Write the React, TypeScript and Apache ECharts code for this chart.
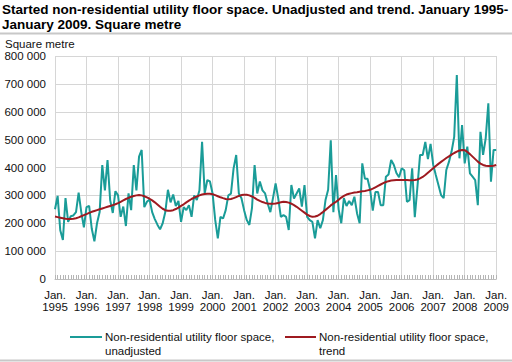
import React, { useEffect, useRef } from "react";
import * as echarts from "echarts";

const FONT = "'Liberation Sans', Arial, Helvetica, sans-serif";

const years = [1995, 1996, 1997, 1998, 1999, 2000, 2001, 2002, 2003, 2004, 2005, 2006, 2007, 2008, 2009];
const monthNames = ["Jan.", "Feb.", "Mar.", "Apr.", "May", "Jun.", "Jul.", "Aug.", "Sep.", "Oct.", "Nov.", "Dec."];

// Thousand square metres, monthly Jan 1995 - Jan 2009
const unadjusted1995 = [250, 298, 175, 140, 290, 205, 225, 228, 240, 310, 240, 185];
const unadjusted1996 = [258, 262, 180, 135, 200, 240, 409, 318, 427, 283, 237, 315];
const unadjusted1997 = [300, 223, 260, 190, 307, 247, 409, 318, 439, 463, 258, 277];
const unadjusted1998 = [285, 240, 215, 195, 178, 200, 240, 320, 275, 303, 262, 280];
const unadjusted1999 = [205, 258, 247, 265, 223, 300, 283, 318, 492, 307, 355, 350];
const unadjusted2000 = [307, 212, 146, 223, 217, 247, 300, 306, 397, 445, 307, 290];
const unadjusted2001 = [247, 212, 194, 254, 409, 307, 350, 318, 307, 270, 240, 290];
const unadjusted2002 = [343, 289, 223, 229, 223, 176, 337, 289, 307, 325, 260, 337];
const unadjusted2003 = [223, 211, 205, 146, 211, 182, 211, 283, 320, 498, 240, 373];
const unadjusted2004 = [250, 200, 290, 262, 280, 265, 295, 236, 200, 415, 360, 360];
const unadjusted2005 = [320, 245, 312, 312, 265, 265, 367, 375, 427, 410, 380, 365];
const unadjusted2006 = [397, 390, 277, 283, 397, 222, 330, 445, 445, 492, 430, 485];
const unadjusted2007 = [410, 373, 337, 301, 290, 391, 420, 457, 510, 732, 433, 552];
const unadjusted2008 = [415, 475, 379, 367, 355, 265, 528, 445, 505, 630, 349, 463];
const unadjusted2009 = [463];

const trend1995 = [224, 222, 220, 218, 216, 215, 215, 216, 218, 221, 225, 229];
const trend1996 = [233, 237, 241, 244, 247, 250, 253, 256, 259, 262, 265, 268];
const trend1997 = [272, 277, 282, 287, 291, 295, 298, 300, 301, 300, 297, 293];
const trend1998 = [288, 282, 275, 267, 259, 252, 247, 245, 245, 247, 251, 256];
const trend1999 = [262, 268, 275, 281, 287, 292, 296, 300, 303, 305, 306, 306];
const trend2000 = [304, 301, 297, 293, 290, 287, 286, 287, 290, 294, 298, 301];
const trend2001 = [302, 302, 300, 296, 291, 285, 280, 276, 273, 271, 270, 270];
const trend2002 = [271, 273, 275, 277, 276, 274, 270, 265, 259, 252, 245, 238];
const trend2003 = [231, 226, 223, 224, 227, 233, 240, 248, 256, 264, 271, 277];
const trend2004 = [284, 292, 298, 303, 306, 308, 310, 311, 313, 315, 316, 318];
const trend2005 = [320, 324, 329, 334, 339, 344, 348, 351, 353, 354, 355, 355];
const trend2006 = [355, 355, 355, 354, 354, 355, 357, 361, 366, 373, 381, 389];
const trend2007 = [397, 405, 413, 420, 427, 434, 440, 446, 452, 457, 461, 463];
const trend2008 = [462, 456, 448, 439, 430, 421, 414, 409, 406, 405, 405, 406];
const trend2009 = [409];

const unadjusted = [
  ...unadjusted1995, ...unadjusted1996, ...unadjusted1997, ...unadjusted1998, ...unadjusted1999,
  ...unadjusted2000, ...unadjusted2001, ...unadjusted2002, ...unadjusted2003, ...unadjusted2004,
  ...unadjusted2005, ...unadjusted2006, ...unadjusted2007, ...unadjusted2008, ...unadjusted2009,
];
const trend = [
  ...trend1995, ...trend1996, ...trend1997, ...trend1998, ...trend1999,
  ...trend2000, ...trend2001, ...trend2002, ...trend2003, ...trend2004,
  ...trend2005, ...trend2006, ...trend2007, ...trend2008, ...trend2009,
];

const categories: string[] = [];
years.forEach((y) => {
  monthNames.forEach((m, i) => {
    if (y === 2009 && i > 0) return;
    categories.push(i === 0 ? `${m}\n${y}` : `${m} ${y}`);
  });
});

const titleText = "Started non-residential utility floor space. Unadjusted and trend. January 1995-\nJanuary 2009. Square metre";
const unitLabel = "Square metre";
const legendNames = ["Non-residential utility floor space,\nunadjusted", "Non-residential utility floor space,\ntrend"];
const yTicks = [0, 100, 200, 300, 400, 500, 600, 700, 800];

const TEAL = "#1a9c98";
const RED = "#9e1a20";
const GRID = "#d6d6d6";

export default function App() {
  const ref = useRef<HTMLDivElement>(null);
  useEffect(() => {
    document.body.style.margin = "0";
    if (!ref.current) return;
    const chart = echarts.init(ref.current, undefined, { renderer: "svg" });
    chart.setOption({
      animation: false,
      textStyle: { fontFamily: FONT },
      grid: { left: 55, right: 13, top: 56, bottom: 83 },
      xAxis: {
        type: "category",
        data: categories,
        boundaryGap: false,
        axisLine: { show: true, lineStyle: { color: "#bdbdbd", width: 1 } },
        axisTick: { show: true, interval: 0, inside: true, length: 4, lineStyle: { color: "#b5b5b5" } },
        splitLine: { show: true, interval: (i: number) => i % 12 === 0, lineStyle: { color: GRID, width: 1 } },
        axisLabel: {
          interval: (i: number) => i % 12 === 0,
          color: "#111",
          fontSize: 11.5,
          lineHeight: 12,
          margin: 10,
          fontFamily: FONT,
        },
      },
      yAxis: {
        type: "value",
        min: yTicks[0],
        max: yTicks[yTicks.length - 1],
        interval: 100,
        axisLine: { show: false },
        axisTick: { show: false },
        splitLine: { show: true, lineStyle: { color: GRID, width: 1 } },
        axisLabel: {
          color: "#111",
          fontSize: 11.5,
          margin: 9,
          fontFamily: FONT,
          verticalAlign: "middle",
          padding: [7, 0, 0, 0],
          formatter: (v: number) => (v === 0 ? "0" : `${v} 000`),
        },
      },
      series: [
        {
          name: legendNames[0],
          type: "line",
          data: unadjusted,
          symbol: "none",
          lineStyle: { color: TEAL, width: 2 },
          itemStyle: { color: TEAL },
        },
        {
          name: legendNames[1],
          type: "line",
          data: trend,
          symbol: "none",
          lineStyle: { color: RED, width: 2 },
          itemStyle: { color: RED },
        },
      ],
      graphic: [
        {
          type: "text",
          left: 2,
          top: 2,
          style: { text: titleText, font: `bold 13.5px ${FONT}`, lineHeight: 15, fill: "#000" },
        },
        {
          type: "line",
          shape: { x1: 0, y1: 33.5, x2: 512, y2: 33.5 },
          style: { stroke: "#c8c8c8", lineWidth: 2 },
        },
        {
          type: "text",
          left: 5,
          top: 38,
          style: { text: unitLabel, font: `11.5px ${FONT}`, fill: "#111" },
        },
        {
          type: "line",
          shape: { x1: 70, y1: 337, x2: 102, y2: 337 },
          style: { stroke: TEAL, lineWidth: 2 },
        },
        {
          type: "text",
          left: 105,
          top: 330,
          style: { text: legendNames[0], font: `11.5px ${FONT}`, lineHeight: 14, fill: "#111" },
        },
        {
          type: "line",
          shape: { x1: 285, y1: 337, x2: 316, y2: 337 },
          style: { stroke: RED, lineWidth: 2 },
        },
        {
          type: "text",
          left: 319,
          top: 330,
          style: { text: legendNames[1], font: `11.5px ${FONT}`, lineHeight: 14, fill: "#111" },
        },
        {
          type: "line",
          shape: { x1: 0, y1: 360.5, x2: 512, y2: 360.5 },
          style: { stroke: "#c8c8c8", lineWidth: 2 },
        },
      ],
    });
    return () => chart.dispose();
  }, []);
  return <div ref={ref} style={{ width: 512, height: 362 }} />;
}
